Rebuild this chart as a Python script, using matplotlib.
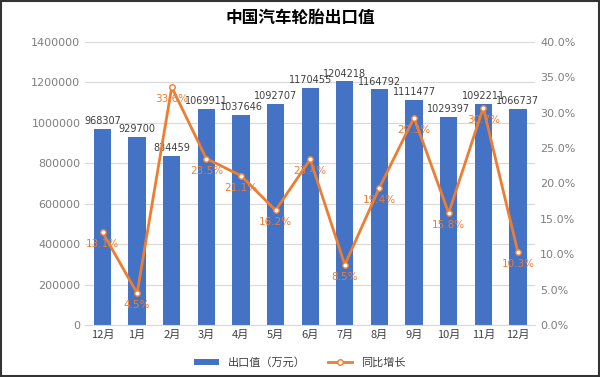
import matplotlib
matplotlib.use("Agg")
import matplotlib.pyplot as plt
from matplotlib.ticker import FuncFormatter, MultipleLocator

plt.rcParams["font.family"] = ["Noto Sans CJK SC", "DejaVu Sans"]

months = ["12月", "1月", "2月", "3月", "4月", "5月", "6月", "7月", "8月", "9月", "10月", "11月", "12月"]
export_value = [968307, 929700, 834459, 1069911, 1037646, 1092707, 1170455, 1204218,
                1164792, 1111477, 1029397, 1092211, 1066737]
yoy_growth = [13.1, 4.5, 33.6, 23.5, 21.1, 16.2, 23.4, 8.5, 19.4, 29.3, 15.8, 30.7, 10.3]

BLUE = "#4472C4"
ORANGE = "#ED7D31"
GRAY = "#7F7F7F"

fig = plt.figure(figsize=(6, 3.77), dpi=100)
ax = fig.add_axes([0.142, 0.138, 0.75, 0.751])
x = list(range(len(months)))

ax.bar(x, export_value, width=0.5, color=BLUE, zorder=2, label="出口值（万元）")
for xi, v in zip(x, export_value):
    ax.annotate(f"{v}", (xi, v), xytext=(0, 2), textcoords="offset points",
                ha="center", va="bottom", fontsize=7, color="#404040", family=["DejaVu Sans"])
ax.set_ylim(0, 1400000)
ax.yaxis.set_major_locator(MultipleLocator(200000))
ax.yaxis.set_major_formatter(FuncFormatter(lambda v, p: f"{int(v)}"))
ax.set_xlim(-0.5, len(months) - 0.5)
ax.set_xticks(x)
ax.set_xticklabels(months)
ax.grid(axis="y", color="#D9D9D9", linewidth=0.8, zorder=0)
ax.tick_params(axis="both", length=0, labelsize=8, colors=GRAY)
ax.tick_params(axis="x", colors="#404040")
for lbl in ax.get_yticklabels():
    lbl.set_family(["DejaVu Sans"])
for s in ax.spines.values():
    s.set_visible(False)
ax.spines["bottom"].set_visible(True)
ax.spines["bottom"].set_color("#D9D9D9")

ax2 = ax.twinx()
ax2.plot(x, yoy_growth, color=ORANGE, linewidth=2, marker="o", markersize=4,
         markerfacecolor="white", markeredgecolor=ORANGE, markeredgewidth=1,
         zorder=3, label="同比增长")
for xi, v in zip(x, yoy_growth):
    ax2.annotate(f"{v:.1f}%", (xi, v), xytext=(0, -5), textcoords="offset points",
                 ha="center", va="top", fontsize=7.5, color=ORANGE, family=["DejaVu Sans"])
ax2.set_ylim(0, 40)
ax2.yaxis.set_major_locator(MultipleLocator(5))
ax2.yaxis.set_major_formatter(FuncFormatter(lambda v, p: f"{v:.1f}%"))
ax2.tick_params(axis="y", length=0, labelsize=8, colors=GRAY)
for lbl in ax2.get_yticklabels():
    lbl.set_family(["DejaVu Sans"])
for s in ax2.spines.values():
    s.set_visible(False)

fig.text(0.5, 0.952, "中国汽车轮胎出口值", ha="center", va="center",
         fontsize=12, fontweight="bold", color="#000000")

h1, l1 = ax.get_legend_handles_labels()
h2, l2 = ax2.get_legend_handles_labels()
fig.legend(h1 + h2, l1 + l2, loc="center", bbox_to_anchor=(0.5, 0.038), ncol=2,
           frameon=False, fontsize=8, labelcolor="#404040", handlelength=2.2,
           handleheight=0.5, columnspacing=2.0)

fig.patches.append(plt.Rectangle((0.002, 0.003), 0.996, 0.994, transform=fig.transFigure,
                                 fill=False, edgecolor="#333333", linewidth=1.5))

fig.savefig("out.png", dpi=100)
